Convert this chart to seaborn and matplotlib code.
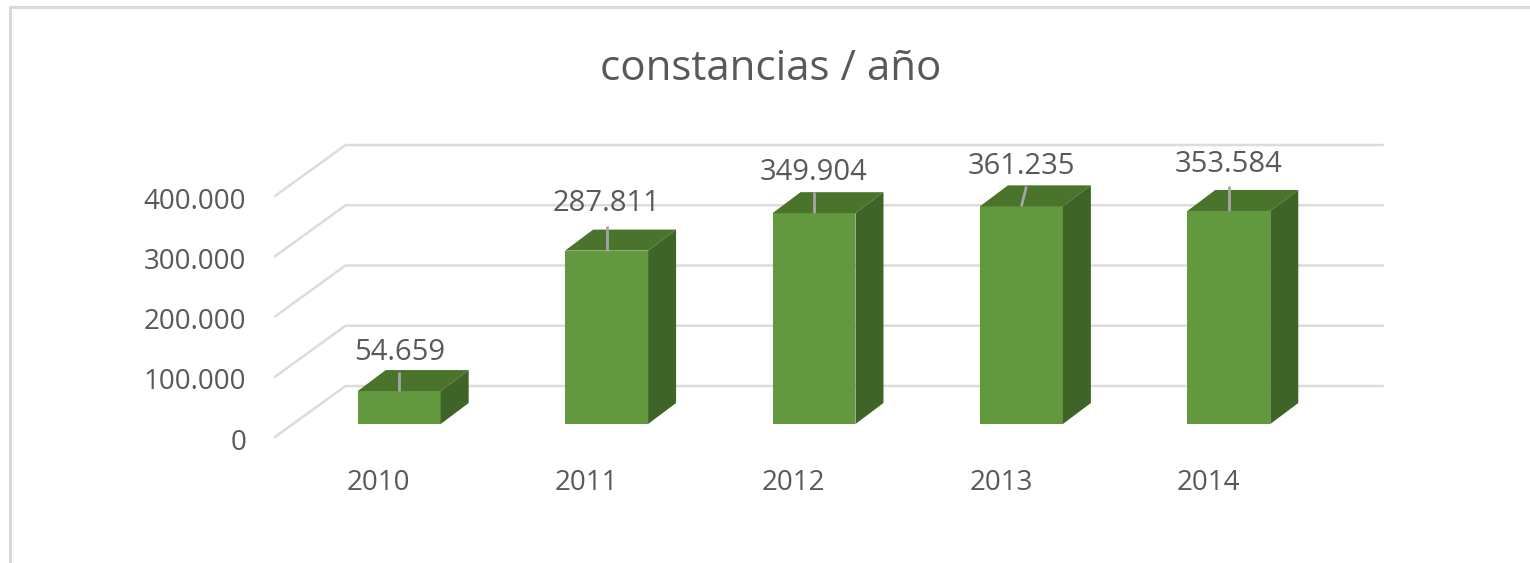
import matplotlib
matplotlib.use("Agg")
import matplotlib.pyplot as plt
import pandas as pd
import seaborn as sns
from matplotlib.lines import Line2D
from matplotlib.transforms import ScaledTranslation

years = ["2010", "2011", "2012", "2013", "2014"]
constancias = [54659, 287811, 349904, 361235, 353584]
labels = ["54.659", "287.811", "349.904", "361.235", "353.584"]
y_ticks = [0, 100000, 200000, 300000, 400000]
y_labels = ["0", "100.000", "200.000", "300.000", "400.000"]
# px that each data label and leader line sit above the bar, picked by eye
label_up = [39, 47, 41, 40, 46]
leader_up = [19, 25, 21, 20, 25]
leader_lean = [0, 0, 0, 5, 0]

W, H = 1530, 563
FRONT = "#62993E"
TOP = "#4A732B"
SIDE = "#3F6428"
GRID = "#DCDCDC"
TEXT = "#595959"

sns.set_style("white")
plt.rcParams["font.family"] = ["Open Sans", "DejaVu Sans"]

fig = plt.figure(figsize=(W / 100, H / 100), dpi=100)
ax = fig.add_axes([295.5 / W, 1 - 424 / H, 1037 / W, 241 / H])

df = pd.DataFrame({"year": years, "constancias": constancias})
sns.barplot(data=df, x="year", y="constancias", color=FRONT, saturation=1,
            width=0.4, linewidth=0, zorder=3, ax=ax)
ax.set_xlim(-0.5, 4.5)
ax.set_ylim(0, 400000)

# px to data units
ux = 5 / 1037
uy = 400000 / 241

# back wall and floor lines of the fake 3d box
for v in y_ticks:
    ax.plot([-0.5 - 20.5 * ux, -0.5 + 50 * ux, 4.5 + 50.5 * ux],
            [v - 13 * uy, v + 38 * uy, v + 38 * uy],
            color=GRID, lw=1.8, zorder=1, clip_on=False)

# depth faces and leader lines for each bar
dx, dy = 28 * ux, 21 * uy
for i, v in enumerate(constancias):
    l, r = i - 0.2, i + 0.2
    ax.fill([l, r, r + dx, l + dx], [v, v, v + dy, v + dy],
            color=TOP, lw=0, zorder=4, clip_on=False)
    ax.fill([r, r + dx, r + dx, r], [0, dy, v + dy, v],
            color=SIDE, lw=0, zorder=4, clip_on=False)
    ax.plot([i, i + leader_lean[i] * ux], [v, v + leader_up[i] * uy],
            color="#A6A6A6", lw=2.0, zorder=5, clip_on=False, solid_capstyle="butt")
    ax.annotate(labels[i], (i, v), xytext=(0, label_up[i] * 0.72),
                textcoords="offset points", ha="center", va="center",
                fontsize=21, color=TEXT, zorder=6, annotation_clip=False)

ax.set_yticks(y_ticks, y_labels)
ax.tick_params(axis="y", length=0, pad=35.5, labelsize=20, labelcolor=TEXT)
ax.tick_params(axis="x", length=0, pad=32.5, labelsize=20, labelcolor=TEXT)
ax.set_xlabel("")
ax.set_ylabel("")
sns.despine(ax=ax, left=True, bottom=True)
ax.patch.set_alpha(0)

for t in ax.get_yticklabels():
    t.set_transform(t.get_transform() + ScaledTranslation(0, -15 / 100, fig.dpi_scale_trans))
for t in ax.get_xticklabels():
    t.set_transform(t.get_transform() + ScaledTranslation(-20.5 / 100, 0, fig.dpi_scale_trans))

fig.text(771 / W, 1 - 69 / H, "constancias / año", ha="center", va="center",
         fontsize=30.3, color=TEXT)

# outer chart border, only top and left are in the crop
fig.add_artist(Line2D([9.5 / W, 9.5 / W, 1], [0, 1 - 6.5 / H, 1 - 6.5 / H],
                      color="#D9D9D9", lw=2.2, transform=fig.transFigure))

fig.savefig("out.png", dpi=100)
